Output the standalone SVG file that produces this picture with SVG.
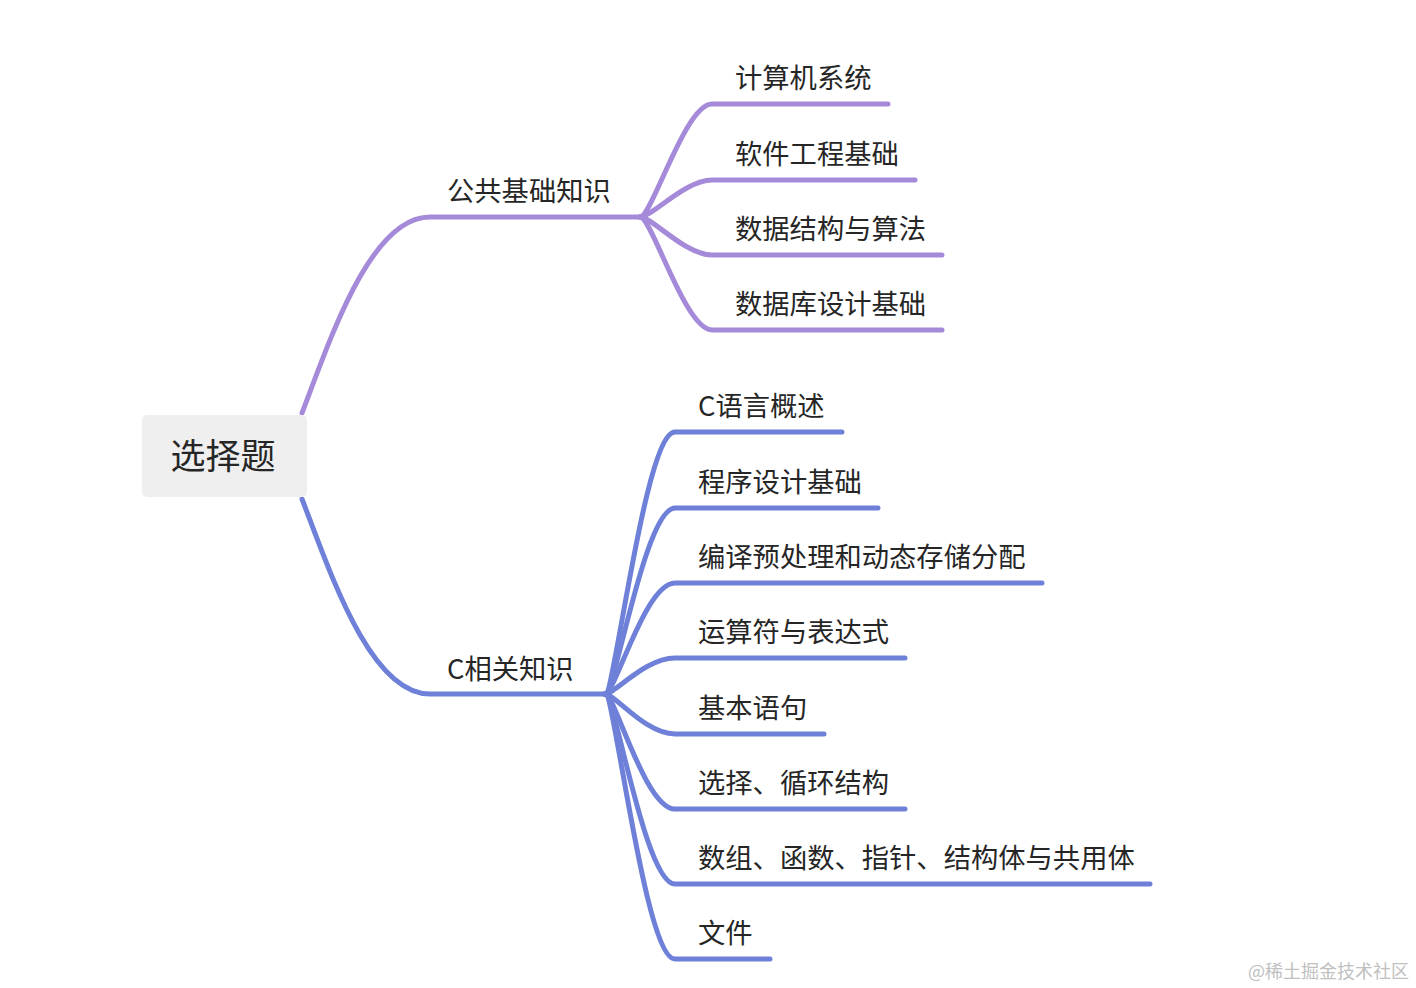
<svg xmlns="http://www.w3.org/2000/svg" width="1416" height="988" viewBox="0 0 1416 988">
<style>
.t{font-family:"Noto Sans CJK SC","Noto Sans",sans-serif;fill:#262626;font-size:27.3px}
.p{fill:none;stroke:#a68ada;stroke-width:5;stroke-linecap:round}
.b{fill:none;stroke:#6e80d8;stroke-width:5;stroke-linecap:round}
</style>
<rect width="1416" height="988" fill="#ffffff"/>
<g id="connectors">
<path class="p" d="M302,413 C330,340 370,217 430,217 L640,217"/>
<path class="p" d="M640,217 C652,217 685,104 712,104 L888,104"/>
<path class="p" d="M640,217 C652,217 685,180 712,180 L915,180"/>
<path class="p" d="M640,217 C652,217 685,255 712,255 L942,255"/>
<path class="p" d="M640,217 C652,217 685,330 712,330 L942,330"/>
<path class="b" d="M302,499 C330,572 370,694 430,694 L605,694"/>
<path class="b" d="M605,694 C615,694 645,432 675,432 L842,432"/>
<path class="b" d="M605,694 C615,694 645,508 675,508 L878,508"/>
<path class="b" d="M605,694 C615,694 645,583 675,583 L1042,583"/>
<path class="b" d="M605,694 C615,694 645,658 675,658 L905,658"/>
<path class="b" d="M605,694 C615,694 645,734 675,734 L824,734"/>
<path class="b" d="M605,694 C615,694 645,809 675,809 L905,809"/>
<path class="b" d="M605,694 C615,694 645,884 675,884 L1150,884"/>
<path class="b" d="M605,694 C615,694 645,959 675,959 L770,959"/>
</g>
<g id="root">
<rect x="142" y="415" width="165" height="82" rx="5" fill="#efefef"/>
<text class="t" x="223" y="469" text-anchor="middle" style="font-size:35px">选择题</text>
</g>
<g id="n-gonggong"><text class="t" x="447" y="201">公共基础知识</text></g>
<g id="n-jisuanji"><text class="t" x="735" y="88">计算机系统</text></g>
<g id="n-ruanjian"><text class="t" x="735" y="164">软件工程基础</text></g>
<g id="n-shuju"><text class="t" x="735" y="239">数据结构与算法</text></g>
<g id="n-shujuku"><text class="t" x="735" y="314">数据库设计基础</text></g>
<g id="n-c"><text class="t" x="447" y="679">C相关知识</text></g>
<g id="n-c1"><text class="t" x="698" y="416">C语言概述</text></g>
<g id="n-c2"><text class="t" x="698" y="492">程序设计基础</text></g>
<g id="n-c3"><text class="t" x="698" y="567">编译预处理和动态存储分配</text></g>
<g id="n-c4"><text class="t" x="698" y="642">运算符与表达式</text></g>
<g id="n-c5"><text class="t" x="698" y="718">基本语句</text></g>
<g id="n-c6"><text class="t" x="698" y="793">选择、循环结构</text></g>
<g id="n-c7"><text class="t" x="698" y="868">数组、函数、指针、结构体与共用体</text></g>
<g id="n-c8"><text class="t" x="698" y="943">文件</text></g>
<text x="1409" y="978" text-anchor="end" style="font-family:'Noto Sans CJK SC',sans-serif;font-size:18px;fill:#c0c0c0">@稀土掘金技术社区</text>
</svg>
